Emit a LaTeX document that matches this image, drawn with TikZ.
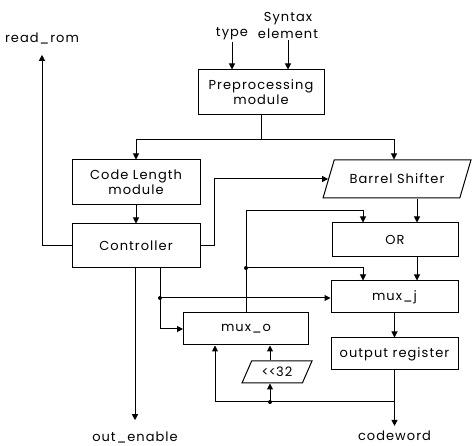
\documentclass[tikz,border=0pt]{standalone}
\usepackage{fontspec}
\setmainfont{Poppins}[LetterSpace=8]
\usetikzlibrary{arrows.meta,shapes.geometric}
\begin{document}
\begin{tikzpicture}[x=1pt,y=-1pt,
  txt/.style={font=\fontsize{13}{15}\selectfont},
  box/.style={txt,draw,line width=1pt,rectangle,inner sep=0pt,align=center},
  para/.style={txt,draw,line width=1pt,trapezium,trapezium stretches=true,inner sep=0pt},
  lab/.style={txt,inner sep=0pt,align=center},
  conn/.style={line width=1pt},
  arr/.style={conn,-{Triangle[length=6pt,width=6pt]}},
  jdot/.style={circle,fill,inner sep=0pt,minimum size=4pt}
]
\useasboundingbox (0,0) rectangle (472,446);

% boxes
\node[box,minimum width=126pt,minimum height=45pt] (pre) at (261,92.5) {Preprocessing\\module};
\node[box,minimum width=128pt,minimum height=45pt] (code) at (136,182.5) {Code Length\\module};
\node[box,minimum width=128pt,minimum height=44pt] (ctrl) at (136,246) {Controller};
\node[para,trapezium left angle=50,trapezium right angle=130,minimum width=148pt,minimum height=38pt] (bs) at (397,179) {Barrel Shifter};
\node[box,minimum width=126pt,minimum height=34pt] (or) at (395,240) {OR};
\node[box,minimum width=127pt,minimum height=32pt] (muxj) at (394.5,297) {mux\_j};
\node[box,minimum width=127pt,minimum height=32pt] (outreg) at (394.5,354) {output register};
\node[box,minimum width=125pt,minimum height=32pt] (muxo) at (246,329) {mux\_o};
\node[para,trapezium left angle=59,trapezium right angle=121,minimum width=70pt,minimum height=22pt] (sh) at (277,372) {\mbox{<}\mbox{<}32};

% labels
\node[lab] (rr) at (42,38) {read\_rom};
\node[lab] (typ) at (232,34) {type};
\node[lab,font=\fontsize{13}{17}\selectfont] (syn) at (288,25) {Syntax\\element};
\node[lab] (oe) at (135,437) {out\_enable};
\node[lab] (cw) at (394.5,436) {codeword};

% helper coordinates
\coordinate (split) at (261,140);
\coordinate (j1) at (160,298);
\coordinate (j2) at (246,268);
\coordinate (topc) at (246,211);
\coordinate (j3) at (270,402);
\coordinate (c4) at (394.5,402);
\coordinate (xa) at (363,0);
\coordinate (xb) at (417,0);
\coordinate (xl) at (215,0);
\coordinate (xr) at (214,0);
\coordinate (xbs) at (394,0);

% connectors
\draw[arr,shorten <=2pt] (typ.south) -- (typ.south |- pre.north);
\draw[arr,shorten <=2pt] (syn.south) -- (syn.south |- pre.north);
\draw[conn] (pre.south) -- (split);
\draw[arr] (split) -| (code.north);
\draw[arr] (split) -| (xbs |- bs.north);
\draw[arr] (code.south) -- (ctrl.north);
\draw[arr,shorten >=11pt] (ctrl.west) -| (rr.south);
\draw[arr] (ctrl.east) -| (xr |- bs.west) -- (bs.west);
\draw[arr,shorten >=11pt] (ctrl.south -| oe.north) -- (oe.north);
\draw[conn] (ctrl.south -| j1) -- (j1);
\draw[arr] (j1) -- (j1 -| muxj.west);
\draw[arr] (j1) |- (muxo.west);
\draw[conn] (muxo.north) -- (topc);
\draw[arr] (topc) -| (xa |- or.north);
\draw[arr] (j2) -| (xa |- muxj.north);
\draw[arr] (xb |- bs.south) -- (xb |- or.north);
\draw[arr] (xb |- or.south) -- (xb |- muxj.north);
\draw[arr] (muxj.south) -- (outreg.north);
\draw[arr,shorten >=5pt] (outreg.south) -- (cw.north);
\draw[arr] (c4) -| (xl |- muxo.south);
\draw[arr] (j3) -- (j3 |- sh.south);
\draw[arr] (j3 |- sh.north) -- (j3 |- muxo.south);

% junction dots
\node[jdot] (d1) at (j1) {};
\node[jdot] (d2) at (j2) {};
\node[jdot] (d3) at (j3) {};
\end{tikzpicture}
\end{document}
